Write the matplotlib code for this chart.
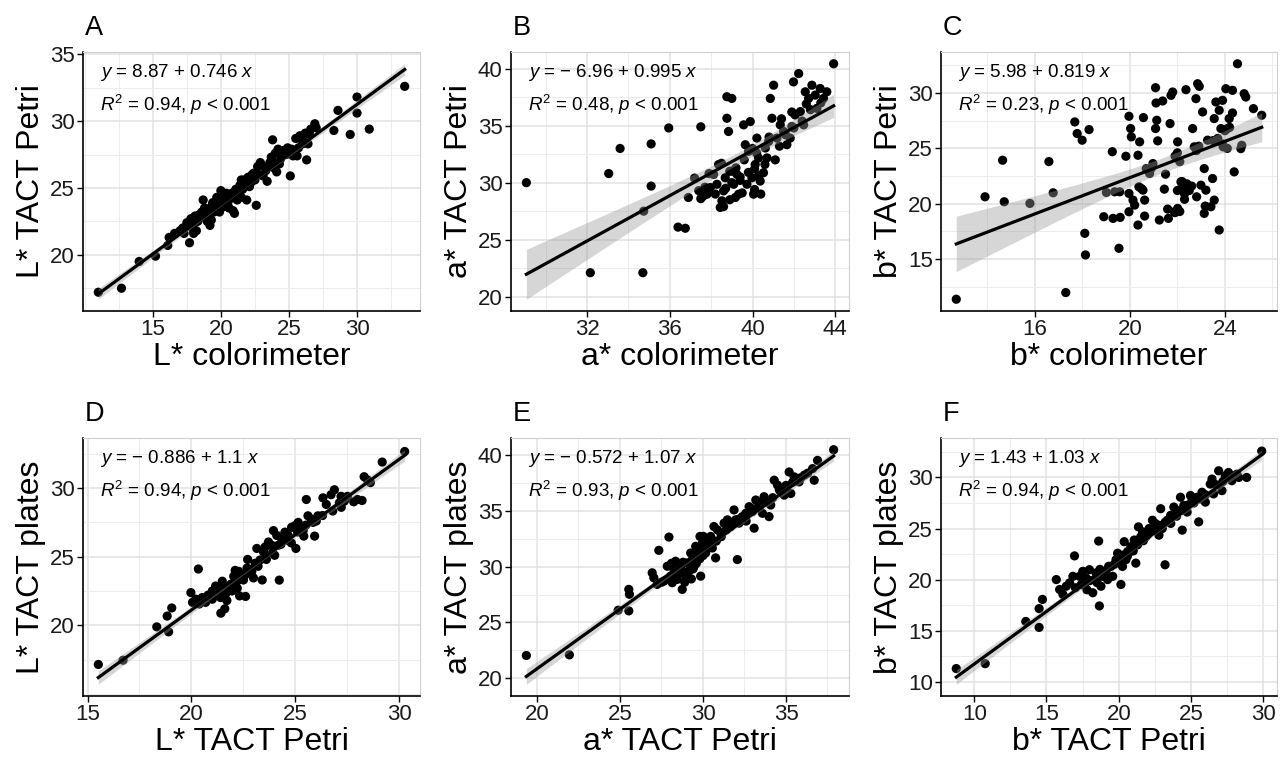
import numpy as np
import matplotlib
matplotlib.use("Agg")
import matplotlib.pyplot as plt
from matplotlib.ticker import FixedLocator

plt.rcParams['font.family'] = ['Liberation Sans', 'DejaVu Sans']
plt.rcParams['mathtext.fontset'] = 'custom'
plt.rcParams['mathtext.rm'] = 'Liberation Sans'
plt.rcParams['mathtext.it'] = 'Liberation Sans:italic'

# ---------------- data ----------------
panel_letters = ["A", "B", "C", "D", "E", "F"]
x_labels = ["L* colorimeter", "a* colorimeter", "b* colorimeter",
            "L* TACT Petri", "a* TACT Petri", "b* TACT Petri"]
y_labels = ["L* TACT Petri", "a* TACT Petri", "b* TACT Petri",
            "L* TACT plates", "a* TACT plates", "b* TACT plates"]
intercepts = [8.87, -6.96, 5.98, -0.886, -0.572, 1.43]
slopes = [0.746, 0.995, 0.819, 1.1, 1.07, 1.03]
r_squared = [0.94, 0.48, 0.23, 0.94, 0.93, 0.94]
x_ticks = [[15, 20, 25, 30], [32, 36, 40, 44], [16, 20, 24],
           [15, 20, 25, 30], [20, 25, 30, 35], [10, 15, 20, 25, 30]]
y_ticks = [[20, 25, 30, 35], [20, 25, 30, 35, 40], [15, 20, 25, 30],
           [20, 25, 30], [20, 25, 30, 35, 40], [10, 15, 20, 25, 30]]

x_A = [11.0, 12.7, 14.0, 15.2, 16.1, 16.2, 16.6, 17.0, 17.3, 17.7, 17.6, 17.8, 18.0, 18.2,
       18.3, 18.5, 18.6, 18.7, 18.9, 19.0, 19.2, 19.3, 19.3, 19.5, 19.6, 19.7, 19.8, 20.0,
       20.0, 20.2, 20.3, 20.5, 20.7, 20.9, 21.0, 21.2, 21.3, 21.4, 21.5, 21.6, 21.8, 21.9,
       22.0, 22.1, 22.3, 22.5, 22.6, 22.7, 22.9, 23.1, 23.3, 23.4, 23.6, 23.7, 23.8, 23.9,
       24.0, 24.2, 24.3, 24.4, 24.6, 24.8, 25.1, 25.3, 25.5, 25.7, 25.8, 26.0, 26.2, 26.3,
       26.4, 26.6, 26.9, 28.3, 28.6, 29.5, 30.0, 30.0, 30.9, 33.5,
       17.2, 17.5, 18.1, 18.4, 18.8, 19.1, 19.4, 19.9, 20.1, 20.4, 20.6, 20.8, 21.1, 21.5,
       21.7, 22.2, 22.4, 22.8, 23.0, 23.5, 23.8, 24.1, 24.5, 24.9, 25.2, 25.6, 26.0, 26.5,
       27.0, 19.0, 18.0, 17.9]
y_A = [17.2, 17.5, 19.5, 19.9, 20.7, 21.3, 21.6, 21.8, 21.6, 20.9, 22.2, 22.7, 22.3, 21.8,
       22.5, 22.8, 23.2, 24.1, 22.9, 23.4, 22.2, 22.6, 23.6, 23.2, 23.8, 24.3, 23.5, 24.0,
       24.8, 23.6, 24.4, 23.8, 24.2, 23.3, 23.1, 24.1, 24.6, 25.2, 25.6, 24.9, 25.4, 24.1,
       25.8, 25.1, 26.0, 25.6, 23.7, 26.6, 26.9, 25.9, 26.3, 25.5, 26.9, 27.3, 28.6, 26.5,
       27.6, 27.9, 26.8, 27.2, 27.8, 27.5, 25.9, 27.4, 28.7, 28.0, 28.9, 28.6, 29.1, 27.1,
       28.3, 29.4, 29.8, 29.3, 30.8, 29.0, 30.6, 31.8, 29.4, 32.6,
       22.0, 22.4, 22.9, 23.0, 23.5, 23.0, 23.9, 23.2, 24.3, 24.6, 23.5, 24.6, 24.9, 24.3,
       25.6, 25.4, 26.1, 26.0, 26.7, 26.6, 27.0, 26.2, 27.4, 28.0, 27.9, 27.4, 28.3, 29.0,
       29.5, 22.5, 21.6, 22.0]

x_B = [29.07, 32.16, 33.05, 33.6, 34.7, 34.74, 35.1, 35.1, 35.95, 36.4, 36.75, 36.9, 37.2,
       37.5, 37.4, 37.5,
       37.80, 37.96, 38.12, 38.28, 38.36, 38.44, 38.52, 38.60, 38.68, 38.76, 38.76, 39.00,
       38.84, 39.00, 39.09, 39.17, 39.25, 39.33, 39.57, 39.65, 39.73, 39.81, 39.89, 39.97,
       40.05, 40.13, 40.21, 40.29, 40.37, 40.53, 40.62, 40.70, 40.78, 40.86, 40.94, 41.02,
       41.18, 41.34, 41.50, 41.66, 41.82, 41.90, 41.98, 42.06, 42.23, 42.31, 42.47, 42.55,
       42.71, 42.87, 43.03, 43.11, 43.27, 43.43, 43.59, 43.92,
       38.2, 38.7, 39.0, 39.4, 39.8, 40.1, 40.3, 40.1, 39.5, 38.9, 38.6, 40.4, 40.6, 41.1,
       41.3, 41.6, 42.0, 42.4, 40.0, 39.6, 39.2, 38.5, 37.9, 37.7, 37.6, 42.8, 43.3, 42.6,
       41.9, 41.4, 40.8, 40.2, 39.4, 38.9]
y_B = [30.0, 22.1, 30.8, 33.0, 22.1, 27.5, 33.4, 29.7, 34.8, 26.1, 26.0, 28.7, 30.4,
       34.9, 29.3, 28.6,
       28.99, 29.57, 30.72, 29.86, 31.59, 27.83, 28.41, 29.28, 30.43, 35.65, 37.54, 37.39,
       34.49, 31.01, 29.86, 28.70, 30.72, 28.99, 35.07, 33.33, 29.86, 32.75, 35.36, 30.43,
       28.99, 31.59, 33.91, 32.17, 30.14, 30.87, 33.04, 32.17, 33.62, 37.39, 35.65, 38.55,
       33.91, 35.07, 34.49, 33.33, 33.91, 34.93, 38.84, 35.94, 39.57, 36.23, 35.07, 37.97,
       37.39, 38.55, 37.68, 36.52, 38.26, 37.39, 37.97, 40.43,
       29.0, 29.5, 30.0, 30.5, 30.9, 31.2, 30.6, 29.4, 29.1, 28.5, 27.9, 29.0, 31.6, 32.0,
       33.2, 34.2, 34.8, 35.4, 33.0, 32.0, 31.3, 31.7, 30.8, 29.6, 28.8, 36.4, 37.0, 36.9,
       36.2, 35.6, 34.0, 32.6, 30.2, 31.0]

x_C = [12.69, 13.90, 14.64, 14.71, 15.79, 16.59, 16.77, 17.30, 17.68, 17.78, 17.99, 18.28,
       18.10, 18.13, 18.90, 19.01, 19.26, 19.29, 19.36, 19.57, 19.59, 19.54, 19.83, 19.96,
       20.03, 20.06, 19.96, 19.96, 20.13, 20.20, 20.34, 20.41, 20.38, 20.48, 20.57, 20.55,
       20.62, 20.62, 20.34, 20.69, 20.83, 20.97, 21.08, 21.10, 21.08, 21.13, 21.17, 21.24,
       21.38, 21.45, 21.50, 21.59, 21.62, 21.69, 21.73, 21.80, 21.87, 22.01, 22.15, 22.01,
       22.36, 22.64, 22.71, 22.78, 22.85, 22.92, 22.81, 22.99, 23.06, 23.13, 23.20, 23.17,
       23.13, 23.27, 23.41, 23.48, 23.55, 23.55, 23.62, 23.76, 23.76, 23.83, 23.90, 23.93,
       24.04, 24.11, 24.18, 24.32, 24.32, 24.39, 24.53, 24.67, 24.71, 24.81, 24.88, 25.20,
       25.55,
       20.8, 20.9, 21.9, 22.0, 22.1, 22.8, 22.9, 23.5, 23.7, 23.9, 24.0, 24.2, 24.1,
       22.2, 22.3, 22.4, 22.2, 22.5, 22.3, 22.1, 21.9, 22.6, 22.0]
y_C = [11.38, 20.63, 23.93, 20.18, 20.03, 23.81, 20.99, 11.98, 27.39, 26.34, 25.74, 26.70,
       17.33, 15.38, 18.83, 21.02, 24.70, 18.68, 21.08, 21.08, 18.77, 15.98, 24.29, 27.90,
       26.79, 26.04, 20.93, 19.28, 20.33, 19.88, 24.38, 25.59, 21.53, 21.38, 27.78, 21.23,
       20.33, 18.89, 18.08, 23.18, 22.73, 23.63, 30.48, 29.10, 26.79, 27.54, 25.68, 18.53,
       29.28, 21.32, 22.67, 19.52, 18.68, 27.24, 29.79, 30.09, 19.28, 25.59, 21.98, 19.58,
       30.30, 26.79, 25.14, 29.49, 30.84, 30.60, 20.63, 21.68, 28.29, 23.18, 21.23, 19.79,
       19.13, 25.74, 19.73, 22.28, 20.33, 27.69, 29.19, 17.63, 28.44, 26.79, 29.34, 25.14,
       30.39, 26.79, 27.69, 28.20, 30.24, 22.88, 32.64, 24.98, 25.28, 29.94, 29.64, 28.59,
       27.99,
       22.9, 23.2, 24.3, 24.6, 23.8, 24.8, 25.2, 25.7, 25.9, 25.4, 26.6, 26.9, 25.0,
       21.5, 20.9, 21.8, 22.0, 21.2, 20.4, 19.3, 19.2, 21.6, 21.2]

x_D = [15.52, 16.71, 18.33, 18.83, 18.90, 19.05, 19.97, 20.33, 21.41, 22.31,
       20.05, 20.21, 20.37, 20.52, 20.68, 21.00, 21.16, 21.32, 21.40, 21.48, 21.63, 21.79,
       21.95, 22.03, 22.19, 22.27, 22.43, 22.59, 22.67, 22.90, 22.98, 23.06, 23.14, 23.30,
       23.46, 23.54, 23.70, 23.86, 23.94, 24.10, 24.17, 24.22, 24.33, 24.49, 24.65, 24.81,
       24.97, 25.02, 25.13, 25.29, 25.37, 25.52, 25.60, 25.76, 25.84, 25.92, 26.08, 26.32,
       26.48, 26.71, 26.79, 26.87, 27.11, 27.19, 27.35, 27.98, 28.30, 28.46, 29.17, 30.25,
       21.2, 21.5, 21.7, 21.9, 22.2, 22.5, 22.8, 23.2, 23.6, 23.9, 24.3, 24.6, 25.1, 25.5,
       26.0, 22.1, 22.7, 21.6, 21.0, 20.8, 22.6, 23.4, 24.0, 24.8, 25.4, 26.3, 27.2, 27.5,
       27.8, 28.2, 28.6]
y_D = [17.14, 17.45, 19.88, 20.67, 19.52, 21.26, 22.38, 24.10, 20.88, 22.14,
       21.67, 21.90, 21.55, 22.02, 21.67, 22.50, 22.86, 22.62, 22.02, 23.21, 22.26, 22.74,
       22.50, 23.57, 23.21, 23.93, 23.45, 23.69, 24.17, 23.93, 23.45, 24.52, 25.60, 24.76,
       25.36, 25.71, 26.07, 25.83, 26.90, 26.55, 25.83, 23.29, 26.31, 26.79, 26.55, 27.14,
       27.26, 25.60, 27.50, 27.02, 26.90, 29.17, 27.98, 27.74, 27.50, 26.50, 27.98, 29.29,
       28.81, 29.52, 28.33, 29.88, 28.93, 29.40, 29.05, 29.17, 30.83, 30.60, 31.90, 32.67,
       22.3, 22.9, 21.8, 23.0, 22.7, 23.3, 24.0, 24.3, 24.8, 25.3, 25.9, 26.2, 26.8, 27.3,
       27.6, 24.0, 24.8, 21.2, 21.9, 22.2, 22.1, 23.3, 25.1, 26.0, 26.5, 28.0, 28.6, 29.4,
       29.0, 29.1, 30.4]

x_E = [19.36, 21.95, 24.89, 25.53, 25.57, 25.53, 26.94, 27.04, 27.34, 27.95, 29.82,
       27.24, 27.65, 27.85, 28.05, 28.15, 28.25, 28.35, 28.45, 28.55, 28.65, 28.75, 28.95,
       29.05, 29.15, 29.26, 29.36, 29.46, 29.56, 29.66, 29.76, 29.86, 29.96, 30.02, 30.16,
       30.26, 30.36, 30.46, 30.56, 30.66, 30.76, 30.87, 31.07, 31.27, 31.47, 31.67, 31.87,
       31.97, 32.07, 32.17, 32.37, 32.58, 32.78, 32.98, 33.08, 33.18, 33.38, 33.58, 33.68,
       33.98, 34.08, 34.29, 34.49, 34.69, 34.89, 35.19, 35.29, 35.49, 35.79, 36.10, 36.60,
       36.70, 36.90, 37.87,
       28.3, 28.6, 28.8, 29.0, 29.2, 29.4, 29.6, 29.8, 30.0, 30.2, 30.5, 30.8, 31.1, 31.4,
       31.8, 32.2, 32.6, 33.0, 33.4, 33.8, 34.2, 34.6, 35.0, 35.4, 35.9, 36.3, 28.1, 28.9,
       29.3, 27.5]
y_E = [22.02, 22.08, 26.09, 27.96, 27.52, 26.03, 29.45, 29.00, 31.47, 32.66, 32.72,
       28.41, 28.71, 30.04, 29.15, 28.56, 29.75, 30.49, 28.86, 29.45, 30.04, 27.96, 29.15,
       30.34, 29.60, 31.23, 30.64, 30.04, 31.83, 30.94, 31.53, 29.15, 32.12, 32.72, 31.23,
       31.83, 32.42, 32.72, 31.68, 33.61, 30.79, 33.31, 33.02, 33.91, 34.21, 33.61, 35.10,
       34.21, 30.64, 33.91, 34.50, 34.80, 35.39, 34.95, 33.46, 35.99, 35.69, 34.80, 36.29,
       34.50, 35.54, 37.77, 37.33, 36.73, 36.43, 38.51, 36.58, 38.07, 37.62, 38.22, 38.81,
       37.77, 39.55, 40.51,
       29.2, 29.9, 30.4, 29.5, 30.1, 29.8, 30.3, 30.7, 31.0, 31.6, 32.0, 32.3, 32.7, 33.3,
       34.0, 34.3, 34.1, 35.2, 35.3, 35.8, 36.2, 36.9, 37.3, 37.6, 38.0, 38.4, 30.3, 28.6,
       28.9, 28.6]

x_F = [8.76, 10.76, 13.57, 14.49, 14.49, 14.72, 15.68, 16.94,
       15.91, 16.14, 16.37, 16.60, 16.83, 17.29, 17.51, 17.63, 17.74, 17.97, 18.20, 18.32,
       18.43, 18.61, 18.66, 18.77, 18.89, 19.12, 19.23, 19.46, 19.58, 19.81, 19.92, 20.15,
       20.26, 20.38, 20.49, 20.61, 20.84, 21.07, 21.18, 21.36, 21.52, 21.64, 21.87, 22.10,
       22.33, 22.55, 22.78, 22.90, 23.01, 23.20, 23.36, 23.59, 23.81, 24.04, 24.27, 24.39,
       24.50, 24.73, 24.96, 25.07, 25.42, 25.53, 25.76, 25.99, 26.33, 26.45, 26.56, 26.91,
       27.14, 27.37, 27.59, 27.82, 28.17, 28.85, 29.89,
       17.0, 17.4, 17.8, 18.0, 18.5, 18.7, 19.0, 19.3, 19.7, 20.0, 20.3, 20.6, 21.0, 21.3,
       21.7, 22.0, 22.4, 22.8, 23.2, 23.6, 24.0, 24.4, 24.8, 25.2, 25.6, 26.0, 26.7, 27.2,
       27.9, 28.3]
y_F = [11.29, 11.77, 15.90, 15.32, 17.16, 18.06, 20.00, 22.32,
       19.03, 18.55, 19.35, 19.68, 20.32, 20.32, 20.81, 19.52, 20.16, 20.97, 18.71, 20.00,
       20.65, 23.77, 17.42, 19.35, 20.32, 20.81, 20.00, 21.29, 20.32, 21.94, 22.58, 19.52,
       21.29, 23.71, 21.94, 22.74, 23.23, 23.87, 21.61, 25.16, 24.19, 24.68, 24.19, 25.00,
       25.81, 25.48, 24.35, 26.94, 25.00, 21.45, 25.81, 26.29, 27.10, 26.77, 28.06, 24.84,
       27.26, 26.61, 28.23, 27.74, 28.06, 25.65, 28.55, 27.58, 29.35, 29.84, 28.39, 30.65,
       28.71, 30.16, 30.48, 29.68, 30.32, 30.00, 32.58,
       19.2, 19.5, 19.0, 19.9, 19.7, 21.0, 20.6, 21.3, 21.5, 22.0, 22.4, 22.3, 22.8, 23.4,
       23.8, 24.4, 24.8, 25.3, 25.6, 25.5, 26.2, 26.8, 27.3, 27.5, 27.9, 28.3, 29.3, 29.6,
       30.1, 30.0]

xs = [x_A, x_B, x_C, x_D, x_E, x_F]
ys = [y_A, y_B, y_C, y_D, y_E, y_F]

# ---------------- layout ----------------
W, H = 1283, 761
fig = plt.figure(figsize=(W / 100, H / 100), dpi=100)
col_lr = [(83, 420), (511, 849), (941, 1277)]
row_tb = [(52, 311), (438, 696)]

def fmt_num(v):
    return f"{v:g}"

for i in range(6):
    r, c = divmod(i, 3)
    l, rr = col_lr[c]
    t, b = row_tb[r]
    ax = fig.add_axes([l / W, 1 - b / H, (rr - l) / W, (b - t) / H])
    x = np.array(xs[i]); y = np.array(ys[i])
    a0, b0 = intercepts[i], slopes[i]

    # regression line and 95% CI band around it
    n = len(x)
    xg = np.linspace(x.min(), x.max(), 100)
    yg = a0 + b0 * xg
    res = y - (a0 + b0 * x)
    s = np.sqrt(np.sum(res ** 2) / (n - 2))
    sxx = np.sum((x - x.mean()) ** 2)
    se = s * np.sqrt(1.0 / n + (xg - x.mean()) ** 2 / sxx)
    lo, hi = yg - 1.977 * se, yg + 1.977 * se

    ax.scatter(x, y, s=44, color='black', edgecolors='none', zorder=3)
    ax.fill_between(xg, lo, hi, color='#999999', alpha=0.4, linewidth=0, zorder=4)
    ax.plot(xg, yg, color='black', lw=2.3, zorder=5)

    # limits (ggplot style 5% expansion)
    xr = x.max() - x.min()
    ax.set_xlim(x.min() - 0.05 * xr, x.max() + 0.05 * xr)
    ymin = min(y.min(), lo.min()); ymax = max(y.max(), hi.max())
    yr = ymax - ymin
    ax.set_ylim(ymin - 0.05 * yr, ymax + 0.05 * yr)

    xt = x_ticks[i]; yt = y_ticks[i]
    ax.xaxis.set_major_locator(FixedLocator(xt))
    ax.yaxis.set_major_locator(FixedLocator(yt))
    dx = xt[1] - xt[0]; dy = yt[1] - yt[0]
    ax.xaxis.set_minor_locator(FixedLocator(np.arange(xt[0] - 2.5 * dx, xt[-1] + 3 * dx, dx / 2)))
    ax.yaxis.set_minor_locator(FixedLocator(np.arange(yt[0] - 2.5 * dy, yt[-1] + 3 * dy, dy / 2)))
    ax.grid(True, which='major', color='#e1e1e1', lw=1.1, zorder=0)
    ax.grid(True, which='minor', color='#ececec', lw=0.7, zorder=0)
    ax.set_axisbelow(True)
    ax.tick_params(which='minor', length=0)
    ax.tick_params(which='major', length=4, width=1, color='black', labelsize=16,
                   labelcolor='#1a1a1a', pad=2)
    for sp in ['top', 'right']:
        ax.spines[sp].set_color('#cfcfcf'); ax.spines[sp].set_linewidth(0.8)
    for sp in ['left', 'bottom']:
        ax.spines[sp].set_color('black'); ax.spines[sp].set_linewidth(1.2)

    ax.set_xlabel(x_labels[i], fontsize=23, labelpad=1)
    ax.set_ylabel(y_labels[i], fontsize=23, labelpad=3)

    sign = "−" if a0 < 0 else ""
    eq = r"$\mathit{y}$ = " + (sign + " " if sign else "") + fmt_num(abs(a0)) + " + " + fmt_num(b0) + r" $\mathit{x}$"
    r2t = r"$\mathit{R}^{2}$ = " + f"{r_squared[i]:.2f}" + r", $\mathit{p}$ < 0.001"
    ax.text(0.05, 0.92, eq, transform=ax.transAxes, fontsize=13.5, va='center', ha='left', zorder=6)
    ax.text(0.05, 0.795, r2t, transform=ax.transAxes, fontsize=13.5, va='center', ha='left', zorder=6)

    fig.text((l + 2) / W, 1 - (t - 24) / H, panel_letters[i], fontsize=19.5, va='center', ha='left')

fig.savefig("out.png", dpi=100, facecolor='white')
